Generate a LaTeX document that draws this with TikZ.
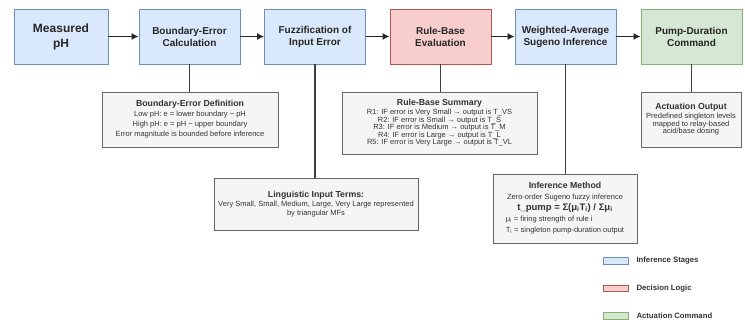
\documentclass[tikz,border=0pt]{standalone}
\usepackage{fontspec}
\setmainfont{Liberation Sans}
\usepackage{tikz}
\usepackage{color}
\usetikzlibrary{arrows.meta,positioning}

\definecolor{stageFill}{HTML}{DAE8FC}
\definecolor{stageLine}{HTML}{6C8EBF}
\definecolor{logicFill}{HTML}{F8CECC}
\definecolor{logicLine}{HTML}{B85450}
\definecolor{actFill}{HTML}{D5E8D4}
\definecolor{actLine}{HTML}{82B366}
\definecolor{noteFill}{HTML}{F5F5F5}
\definecolor{noteLine}{HTML}{666666}
\definecolor{noteText}{HTML}{333333}

\newcommand{\notehead}[1]{{\bfseries\fontsize{8.75}{10}\selectfont #1}}

\tikzset{
 stagebox/.style={draw=stageLine, fill=stageFill, line width=.8pt,
   minimum width=101pt, minimum height=55pt, inner sep=0pt, align=center,
   text=black!85, font=\bfseries\fontsize{10}{12}\selectfont},
 logicbox/.style={stagebox, draw=logicLine, fill=logicFill},
 actbox/.style={stagebox, draw=actLine, fill=actFill},
 notebox/.style={draw=noteLine, fill=noteFill, line width=.7pt, inner sep=0pt,
   align=center, text=noteText, font=\fontsize{7.5}{9}\selectfont},
 flowarrow/.style={-{Latex[length=7pt,width=7pt]}, line width=1.6pt, black!85},
 droplink/.style={line width=1.4pt, black!75},
 swatch/.style={minimum width=25pt, minimum height=6.5pt, inner sep=0pt, line width=.6pt},
 keytext/.style={inner sep=0pt, anchor=west, text=noteText,
   font=\bfseries\fontsize{7.75}{9}\selectfont}
}

\begin{document}
\begin{tikzpicture}[x=1pt,y=-1pt]
%\draw[help lines] (0,0) grid[step=20] (745,320);
\useasboundingbox (0,0) rectangle (745,320);

% main chain
\node[stagebox, minimum width=94pt, font=\bfseries\fontsize{12}{15}\selectfont] (meas) at (61,36.5) {Measured\\pH};
\node[stagebox] (bnd) at (189.5,36.5) {Boundary-Error\\Calculation};
\node[stagebox] (fuz) at (315,36.5) {Fuzzification of\\Input Error};
\node[logicbox] (rule) at (440.5,36.5) {Rule-Base\\Evaluation};
\node[stagebox] (wavg) at (565.5,36.5) {Weighted-Average\\Sugeno Inference};
\node[actbox] (pump) at (691.5,36.5) {Pump-Duration\\Command};

\draw[flowarrow] (meas) -- (bnd);
\draw[flowarrow] (bnd) -- (fuz);
\draw[flowarrow] (fuz) -- (rule);
\draw[flowarrow] (rule) -- (wavg);
\draw[flowarrow] (wavg) -- (pump);

% notes
\node[notebox, minimum width=176pt, minimum height=55pt, font=\fontsize{7.5}{10}\selectfont] (bdef) at (190,119.5)
 {\notehead{Boundary-Error Definition}\\ Low pH: e = lower boundary − pH\\ High pH: e = pH − upper boundary\\ Error magnitude is bounded before inference};
\node[notebox, minimum width=204pt, minimum height=52pt] (ling) at (316,204)
 {\notehead{Linguistic Input Terms:}\\ Very Small, Small, Medium, Large, Very Large represented\\ by triangular MFs};
\node[notebox, minimum width=195pt, minimum height=62pt, font=\fontsize{7.5}{7.6}\selectfont] (rsum) at (439.5,123)
 {\notehead{Rule-Base Summary}\\[1pt] R1: IF error is Very Small → output is T\_VS\\ R2: IF error is Small → output is T\_S\\
  R3: IF error is Medium → output is T\_M\\ R4: IF error is Large → output is T\_L\\ R5: IF error is Very Large → output is T\_VL};
\node[notebox, minimum width=144pt, minimum height=69pt, font=\fontsize{7.5}{11}\selectfont] (inf) at (565,208.5)
 {\notehead{Inference Method}\\ Zero-order Sugeno fuzzy inference\\
  {\bfseries\fontsize{9.5}{11}\selectfont t\_pump = Σ(μ\textsubscript{i}T\textsubscript{i}) / Σμ\textsubscript{i}}\\
  \begin{tabular}[t]{@{}l@{}}μ\textsubscript{i} = firing strength of rule i\\ T\textsubscript{i} = singleton pump-duration output\end{tabular}};
\node[notebox, minimum width=100pt, minimum height=55pt, font=\fontsize{7.5}{7.6}\selectfont] (act) at (691,119.5)
 {\notehead{Actuation Output}\\[1pt] Predefined singleton levels\\ mapped to relay-based\\ acid/base dosing};

\draw[droplink] (bnd.south) -- (bnd.south |- bdef.north);
\draw[droplink] (fuz.south) -- (fuz.south |- ling.north);
\draw[droplink] (rule.south) -- (rule.south |- rsum.north);
\draw[droplink] (wavg.south) -- (wavg.south |- inf.north);
\draw[droplink] (pump.south) -- (pump.south |- act.north);

% legend
\node[swatch, fill=stageFill, draw=stageLine] (keyA) at (615.5,261) {};
\node[swatch, fill=logicFill, draw=logicLine] (keyB) at (615.5,288.5) {};
\node[swatch, fill=actFill, draw=actLine] (keyC) at (615.5,316) {};
\node[keytext, right=8pt of keyA] (keyAt) {Inference Stages};
\node[keytext, right=8pt of keyB] (keyBt) {Decision Logic};
\node[keytext, right=8pt of keyC] (keyCt) {Actuation Command};

\end{tikzpicture}
\end{document}
